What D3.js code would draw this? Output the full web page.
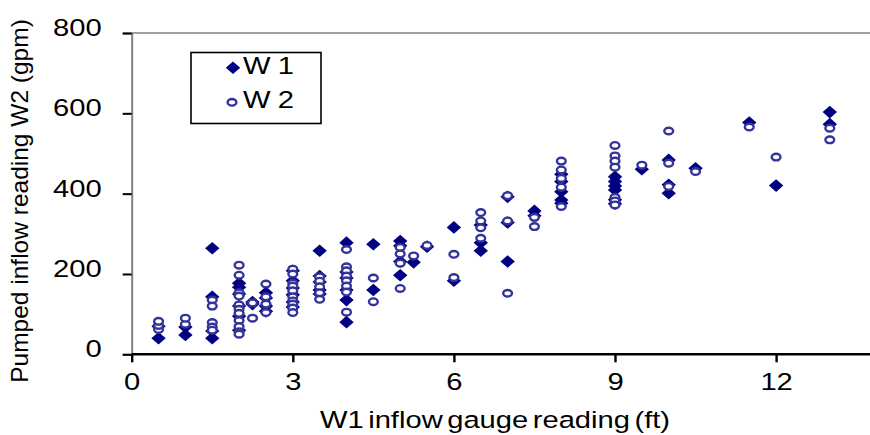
<!DOCTYPE html>
<html>
<head>
<meta charset="utf-8">
<script src="https://cdn.jsdelivr.net/npm/d3@7"></script>
<style>
  html, body { margin: 0; padding: 0; background: #fff; }
  svg { display: block; }
  text { font-family: "Liberation Sans", Arial, sans-serif; fill: #000; }
</style>
</head>
<body>
<svg id="chart" width="870" height="435"></svg>
<script>
// ---- data ----
const w1X = [0.5,0.5, 1,1, 1.5,1.5,1.5,1.5,
  2,2,2,2,2,2, 2.25,2.25, 2.5,2.5,2.5,2.5,
  3,3,3,3,3,3, 3.5,3.5,3.5,3.5,3.5,
  4,4,4,4,4,4, 4.5,4.5, 5,5,5,5, 5.25, 5.5, 6,6,
  6.5,6.5,6.5, 7,7,7, 7.5,7.5, 8,8,8,8,8,
  9,9,9,9,9,9, 9.5, 10,10,10, 10.5, 11.5, 12, 13,13];
const w1Y = [40,70, 48,68, 264,143,58,40,
  177,167,150,120,95,60, 125,130, 153,140,120,107,
  208,183,165,148,130,118, 258,195,180,160,150,
  278,205,190,160,135,80, 274,160, 282,270,231,197, 229, 268, 316,183,
  322,278,258, 392,328,231, 357,345, 448,430,405,384,376,
  442,430,419,409,385,375, 461, 484,422,401, 463, 577, 420, 603,573];

const w2X = [0.5,0.5,0.5, 1,1, 1.5,1.5,1.5,1.5,1.5,
  2,2,2,2,2,2,2,2,2,2,2, 2.25,2.25, 2.5,2.5,2.5,2.5,
  3,3,3,3,3,3,3,3,3,3, 3.5,3.5,3.5,3.5,3.5,
  4,4,4,4,4,4,4,4, 4.5,4.5, 5,5,5,5, 5.25, 5.5, 6,6,
  6.5,6.5,6.5,6.5, 7,7,7, 7.5,7.5, 8,8,8,8,8,
  9,9,9,9,9,9,9, 9.5, 10,10,10, 10.5, 11.5, 12, 13,13];
const w2Y = [62,72,82, 75,90, 135,120,79,68,60,
  222,197,153,145,123,112,102,84,69,56,50, 128,90, 175,143,125,104,
  212,200,177,170,158,143,133,125,115,104, 193,182,168,153,137,
  261,218,208,195,183,170,155,105, 190,131, 266,250,227,164, 245, 271, 249,191,
  353,332,315,289, 395,332,152, 341,318, 481,459,438,416,368,
  520,494,481,466,391,382,372, 471, 556,476,418, 455, 566, 491, 563,534];

const xTicks = [0, 3, 6, 9, 12];
const yTicks = [0, 200, 400, 600, 800];
const seriesNames = ["W1", "W2"];

// ---- layout ----
const svg = d3.select("#chart");
const SX = 1.19; // horizontal stretch of the original picture's text
const x = d3.scaleLinear().domain([0, 14]).range([131.7, 131.7 + 53.7 * 14]);
const y = d3.scaleLinear().domain([0, 800]).range([354.3, 33]);

// top border line at 800
svg.append("line")
  .attr("x1", x(0)).attr("x2", 870)
  .attr("y1", y(800)).attr("y2", y(800))
  .attr("stroke", "#808080").attr("stroke-width", 1.5);

// y axis
const yAxis = svg.append("g")
  .attr("transform", `translate(${x(0)},0)`)
  .call(d3.axisLeft(y).tickValues(yTicks).tickSize(9).tickFormat(d3.format("d")));
yAxis.select(".domain").attr("stroke", "#808080").attr("stroke-width", 2);
yAxis.selectAll(".tick line").attr("stroke", "#000").attr("stroke-width", 2);
yAxis.selectAll(".tick text")
  .attr("font-size", 24.5)
  .attr("x", -30 / SX).attr("dy", 0).attr("y", 2.5)
  .attr("text-anchor", "end")
  .attr("transform", `scale(${SX},1)`);

// x axis
const xAxis = svg.append("g")
  .attr("transform", `translate(0,${y(0)})`)
  .call(d3.axisBottom(x).tickValues(xTicks).tickSize(8).tickFormat(d3.format("d")));
xAxis.select(".domain").attr("stroke", "#000").attr("stroke-width", 2.6)
  .attr("d", `M${x(0)},0H870`);
xAxis.selectAll(".tick line").attr("stroke", "#000").attr("stroke-width", 2.4);
xAxis.selectAll(".tick text")
  .attr("font-size", 24.5)
  .attr("y", 36).attr("dy", 0)
  .attr("text-anchor", "middle")
  .attr("transform", `scale(${SX},1)`)
  .attr("x", 0);

// axis titles
svg.append("text")
  .attr("transform", `translate(495,428) scale(${SX},1)`)
  .attr("text-anchor", "middle")
  .attr("font-size", 24.5)
  .attr("word-spacing", -3)
  .text("W1 inflow gauge reading (ft)");

svg.append("text")
  .attr("transform", `translate(28,201) rotate(-90)`)
  .attr("text-anchor", "middle")
  .attr("font-size", 24.5)
  .text("Pumped inflow reading W2 (gpm)");

// markers
const diamond = "M0,-6.3L7.2,0L0,6.3L-7.2,0Z";
const w1 = w1X.map((d, i) => ({ x: d, y: w1Y[i] }));
const w2 = w2X.map((d, i) => ({ x: d, y: w2Y[i] }));

svg.append("g").selectAll("path").data(w1).join("path")
  .attr("d", diamond)
  .attr("transform", d => `translate(${x(d.x)},${y(d.y)})`)
  .attr("fill", "#000080");

svg.append("g").selectAll("ellipse").data(w2).join("ellipse")
  .attr("cx", d => x(d.x)).attr("cy", d => y(d.y))
  .attr("rx", 4.4).attr("ry", 3.3)
  .attr("fill", "#fff").attr("stroke", "#333399").attr("stroke-width", 2.4);

// legend
const lg = svg.append("g");
lg.append("rect")
  .attr("x", 191).attr("y", 52.5).attr("width", 130).attr("height", 71)
  .attr("fill", "#fff").attr("stroke", "#000").attr("stroke-width", 1.6);
lg.append("path").attr("d", diamond)
  .attr("transform", "translate(233,67.7)").attr("fill", "#000080");
lg.append("ellipse").attr("cx", 232).attr("cy", 102.3).attr("rx", 4.4).attr("ry", 3.3)
  .attr("fill", "#fff").attr("stroke", "#333399").attr("stroke-width", 2.4);
lg.selectAll("text.lab").data(seriesNames).join("text")
  .attr("class", "lab")
  .attr("transform", (d, i) => `translate(243,${i === 0 ? 73.5 : 107.5}) scale(${SX},1)`)
  .attr("font-size", 24.5)
  .attr("letter-spacing", 6)
  .text(d => d);
</script>
</body>
</html>
